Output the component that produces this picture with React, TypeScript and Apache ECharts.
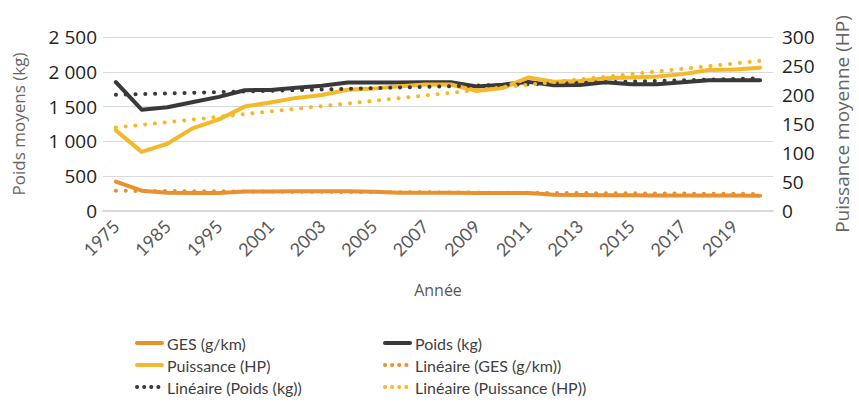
import React, { useEffect, useRef } from "react";
import * as echarts from "echarts";

const years = ["1975","1980","1985","1990","1995","2000","2001","2002","2003","2004","2005","2006","2007","2008","2009","2010","2011","2012","2013","2014","2015","2016","2017","2018","2019","2020"];
const ges = [423, 292, 262, 260, 258, 280, 280, 282, 282, 282, 278, 262, 262, 262, 258, 258, 258, 232, 230, 228, 226, 224, 224, 222, 222, 220];
const poids = [1850, 1455, 1490, 1565, 1640, 1735, 1740, 1770, 1800, 1845, 1845, 1845, 1850, 1850, 1790, 1815, 1855, 1805, 1810, 1850, 1820, 1820, 1850, 1880, 1880, 1880];
const puissance = [139, 102, 116, 143, 158, 180, 187, 195, 200, 209, 211, 215, 218, 218, 207, 212, 230, 223, 224, 229, 230, 232, 236, 243, 244, 247];
// trend lines: only the two end values, joined straight
const gesTrendEnds = [290, 245];
const poidsTrendEnds = [1672, 1907];
const puissanceTrendEnds = [144, 259];

const C_GES = "#E8912E";
const C_POIDS = "#3B3839";
const C_PUISS = "#F4B82B";

function ends(v: number[]) {
  return years.map((_, i) => (i === 0 ? v[0] : i === years.length - 1 ? v[1] : null));
}

const fmt = (v: number) => String(v).replace(/\B(?=(\d{3})+(?!\d))/g, " ");

export default function App() {
  const ref = useRef<HTMLDivElement>(null);
  useEffect(() => {
    if (!ref.current) return;
    const chart = echarts.init(ref.current, undefined, { renderer: "svg" });
    const trend = (name: string, data: any, color: string, yIdx: number) => ({
      name, type: "line", data, yAxisIndex: yIdx, connectNulls: true,
      symbol: "none", showSymbol: false, color,
      lineStyle: { width: 4, type: [0.1, 9.7], cap: "round", color }, z: 3,
    });
    const solid = (name: string, data: number[], color: string, yIdx: number) => ({
      name, type: "line", data, yAxisIndex: yIdx, symbol: "none", showSymbol: false, color,
      lineStyle: { width: 4, color, cap: "round", join: "round" }, z: 2,
    });
    const dotItem = (name: string) => ({ name, lineStyle: { width: 4, type: [0.1, 7], cap: "round" } });
    const legendBase = {
      orient: "vertical", top: 335, height: 66, itemWidth: 25, itemHeight: 10, itemGap: 6, padding: 0,
      itemStyle: { opacity: 0 },
      lineStyle: { width: 4 },
      textStyle: { fontFamily: "Lato", fontSize: 16, lineHeight: 16, color: "#3F3F3F" },
    };
    chart.setOption({
      animation: false,
      grid: { left: 103, right: 78, top: 37, bottom: 194, containLabel: false },
      legend: [
        { ...legendBase, left: 135, data: ["GES (g/km)", "Puissance (HP)", dotItem("Linéaire (Poids (kg))")] },
        { ...legendBase, left: 383, data: ["Poids (kg)", dotItem("Linéaire (GES (g/km))"), dotItem("Linéaire (Puissance (HP))")] },
      ],
      xAxis: {
        type: "category", data: years, boundaryGap: true,
        name: "Année", nameLocation: "middle", nameGap: 71,
        nameTextStyle: { fontFamily: "Open Sans", fontSize: 16, color: "#595959" },
        axisLine: { lineStyle: { color: "#D9D9D9", width: 2 } },
        axisTick: { show: false },
        axisLabel: { interval: 1, rotate: 45, margin: 12, fontFamily: "Lato", fontSize: 18, color: "#595959" },
      },
      yAxis: [
        {
          type: "value", min: 0, max: 2500, interval: 500, position: "left",
          name: "Poids moyens (kg)", nameLocation: "middle", nameGap: 76,
          nameTextStyle: { fontFamily: "Open Sans", fontSize: 17, color: "#666666" },
          axisLabel: { formatter: fmt, margin: 6, fontFamily: "Open Sans", fontSize: 19, color: "#222222" },
          splitLine: { lineStyle: { color: "#D9D9D9", width: 1 } },
          axisLine: { show: false }, axisTick: { show: false },
        },
        {
          type: "value", min: 0, max: 300, interval: 50, position: "right",
          name: "Puissance moyenne (HP)", nameLocation: "middle", nameGap: 59,
          nameTextStyle: { fontFamily: "Open Sans", fontSize: 19, color: "#666666" },
          axisLabel: { margin: 9, fontFamily: "Open Sans", fontSize: 19, color: "#222222" },
          splitLine: { show: false },
          axisLine: { show: false }, axisTick: { show: false },
        },
      ],
      series: [
        solid("GES (g/km)", ges, C_GES, 0),
        solid("Poids (kg)", poids, C_POIDS, 0),
        solid("Puissance (HP)", puissance, C_PUISS, 1),
        trend("Linéaire (GES (g/km))", ends(gesTrendEnds), C_GES, 0),
        trend("Linéaire (Poids (kg))", ends(poidsTrendEnds), C_POIDS, 0),
        trend("Linéaire (Puissance (HP))", ends(puissanceTrendEnds), C_PUISS, 1),
      ],
    });
    return () => chart.dispose();
  }, []);
  return <div ref={ref} style={{ width: 859, height: 405, position: "absolute", left: 0, top: 0 }} />;
}
